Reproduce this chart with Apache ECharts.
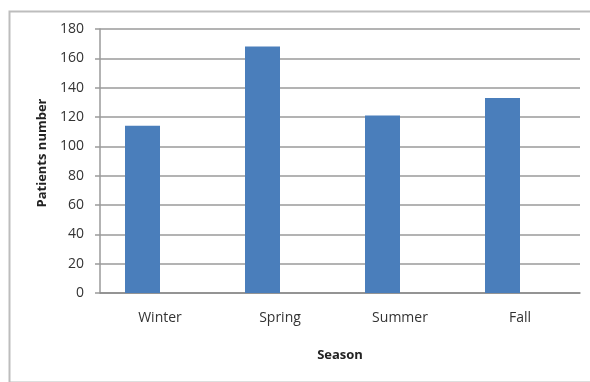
<!DOCTYPE html>
<html>
<head>
<meta charset="utf-8">
<script src="https://cdn.jsdelivr.net/npm/echarts@6/dist/echarts.min.js"></script>
<style>
  html, body { margin: 0; padding: 0; background: #fff; }
  #main { width: 590px; height: 382px; }
</style>
</head>
<body>
<div id="main"></div>
<script>
// data
const seasons = ['Winter', 'Spring', 'Summer', 'Fall'];
const patients = [114, 168, 121, 133];
const emptySeries = []; // excel chart leaves room for a second, empty series

const font = '"Open Sans", "Liberation Sans", sans-serif';

const myChart = echarts.init(document.getElementById('main'), null, { renderer: 'canvas' });

myChart.setOption({
  animation: false,
  graphic: [{
    type: 'rect',
    left: 7, top: 9,
    shape: { width: 590, height: 371 },
    style: { fill: 'none', stroke: '#bdbdbd', lineWidth: 2 },
  }],
  grid: { left: 100, right: 10, top: 29, bottom: 89, containLabel: false },
  xAxis: {
    type: 'category',
    data: seasons,
    name: 'Season',
    nameLocation: 'middle',
    nameGap: 56,
    nameTextStyle: { fontFamily: font, fontSize: 13, fontWeight: 'bold', color: '#222' },
    axisLine: { lineStyle: { color: '#8a8a8a', width: 1.5 } },
    axisTick: { show: false },
    axisLabel: { fontFamily: font, fontSize: 14, color: '#333', margin: 18 },
  },
  yAxis: {
    type: 'value',
    min: 0, max: 180, interval: 20,
    name: 'Patients number',
    nameLocation: 'middle',
    nameGap: 51,
    nameTextStyle: { fontFamily: font, fontSize: 13, fontWeight: 'bold', color: '#222', padding: [0, 0, 0, 16] },
    axisLine: { show: true, lineStyle: { color: '#9a9a9a', width: 1.5 } },
    axisTick: { show: true, length: 5, lineStyle: { color: '#9a9a9a', width: 1.5 } },
    axisLabel: { fontFamily: font, fontSize: 14, color: '#333', margin: 16 },
    splitLine: { lineStyle: { color: '#9a9a9a', width: 1.5 } },
  },
  series: [
    {
      type: 'bar',
      data: patients,
      barWidth: 35,
      barGap: '0%',
      itemStyle: { color: '#4a7ebb' },
    },
    {
      type: 'bar',
      data: emptySeries,
      barWidth: 35,
    },
  ],
});
</script>
</body>
</html>
